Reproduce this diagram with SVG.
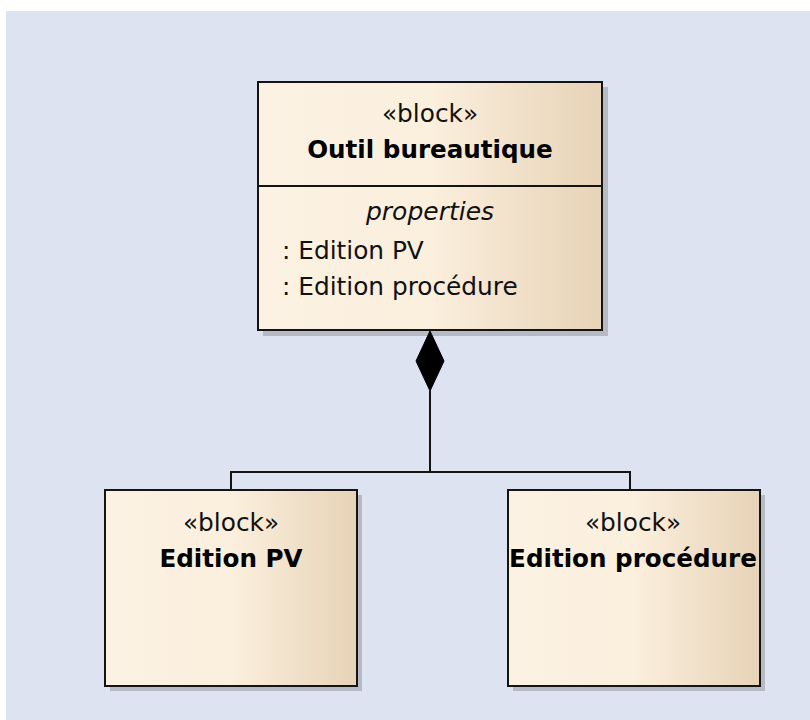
<svg xmlns="http://www.w3.org/2000/svg" width="810" height="720" viewBox="0 0 810 720">
  <defs>
    <linearGradient id="fillGrad" x1="0" y1="0" x2="1" y2="0">
      <stop offset="0" stop-color="#fcf2e3"/>
      <stop offset="0.5" stop-color="#fbefdd"/>
      <stop offset="1" stop-color="#e7d3b7"/>
    </linearGradient>
  </defs>
  <style>
    .shadow { fill: #b6bac4; }
    .box { fill: url(#fillGrad); stroke: #141414; stroke-width: 2; }
    .sep { stroke: #141414; stroke-width: 2; }
    .stereo { font-family: "DejaVu Sans", sans-serif; font-size: 24.8px; fill: #111; text-anchor: middle; }
    .name { font-family: "DejaVu Sans", sans-serif; font-size: 24.6px; font-weight: bold; fill: #000; text-anchor: middle; }
    .comp { font-family: "DejaVu Sans", sans-serif; font-size: 25px; font-style: italic; fill: #111; text-anchor: middle; }
    .prop { font-family: "DejaVu Sans", sans-serif; font-size: 24.8px; fill: #111; }
    .conn { fill: none; stroke: #141414; stroke-width: 2; }
    .diamond { fill: #000; stroke: #000; stroke-width: 1; }
  </style>
  <rect x="0" y="0" width="810" height="720" fill="#ffffff"/>
  <rect x="6" y="11" width="804" height="709" fill="#dee3f1"/>

  <g id="outil-bureautique">
    <rect class="shadow" x="263" y="87" width="345" height="249"/>
    <rect class="box" x="258" y="82" width="344" height="248"/>
    <line class="sep" x1="258" y1="186" x2="602" y2="186"/>
    <text class="stereo" x="430" y="122">«block»</text>
    <text class="name" x="430" y="158">Outil bureautique</text>
    <text class="comp" x="430" y="220">properties</text>
    <text class="prop" x="282" y="259">: Edition PV</text>
    <text class="prop" x="282" y="295">: Edition procédure</text>
  </g>

  <g id="edition-pv">
    <rect class="shadow" x="110" y="495" width="252" height="196"/>
    <rect class="box" x="105" y="490" width="252" height="196"/>
    <text class="stereo" x="231" y="531">«block»</text>
    <text class="name" x="231" y="567">Edition PV</text>
  </g>

  <g id="edition-procedure">
    <rect class="shadow" x="513" y="495" width="252" height="196"/>
    <rect class="box" x="508" y="490" width="252" height="196"/>
    <text class="stereo" x="633" y="531">«block»</text>
    <text class="name" x="633" y="567">Edition procédure</text>
  </g>

  <g id="connectors">
    <polygon class="diamond" points="430,331 444,361 430,391 416,361"/>
    <polyline class="conn" points="430,391 430,472"/>
    <polyline class="conn" points="231,490 231,472 630,472 630,490"/>
  </g>
</svg>
